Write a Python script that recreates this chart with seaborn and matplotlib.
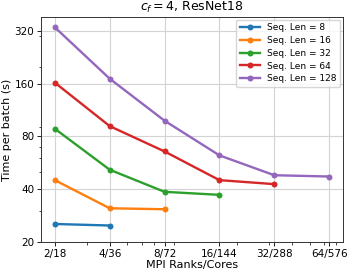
import matplotlib
matplotlib.use("Agg")
import matplotlib.pyplot as plt
import seaborn as sns
import pandas as pd

# MPI ranks on x, time per batch on y
ranks = [2, 4, 8, 16, 32, 64]
tick_labels = ["2/18", "4/36", "8/72", "16/144", "32/288", "64/576"]
seq_lens = [8, 16, 32, 64, 128]

time_seq8 = [25.3, 24.8]
time_seq16 = [45.0, 31.1, 30.7]
time_seq32 = [88.4, 51.6, 38.6, 37.1]
time_seq64 = [162.0, 91.5, 65.6, 45.0, 42.7]
time_seq128 = [335.0, 170.6, 98.2, 62.3, 48.0, 47.2]

yticks = [20, 40, 80, 160, 320]

#build long table for seaborn
rows = []
for n, times in zip(seq_lens, [time_seq8, time_seq16, time_seq32, time_seq64, time_seq128]):
    for r, t in zip(ranks, times):
        rows.append({"ranks": r, "time": t, "series": f"Seq. Len = {n}"})
df = pd.DataFrame(rows)
order = [f"Seq. Len = {n}" for n in seq_lens]

fig, ax = plt.subplots(figsize=(3.51, 2.73), dpi=100)
fig.subplots_adjust(left=0.117, right=0.977, top=0.938, bottom=0.114)

sns.lineplot(data=df, x="ranks", y="time", hue="series", hue_order=order,
             palette=sns.color_palette("tab10", 5), marker="o", markersize=4.3,
             markeredgewidth=0, linewidth=1.7, ax=ax)

ax.set_xscale("log")
ax.set_yscale("log")
ax.set_xlim(2 / 1.19, 64 * 1.19)
ax.set_ylim(20, 384)
ax.set_xticks(ranks)
ax.set_xticklabels(tick_labels)
ax.set_yticks(yticks)
ax.set_yticklabels([str(v) for v in yticks])
ax.tick_params(labelsize=7.5, length=3, width=0.6, pad=2)
ax.tick_params(which="minor", length=1.8, width=0.5)
ax.grid(True, which="major", color="#d3d3d3", linewidth=0.8)
ax.set_axisbelow(True)
for s in ax.spines.values():
    s.set_linewidth(0.7)
    s.set_color("#333333")

ax.set_xlabel("MPI Ranks/Cores", fontsize=8, labelpad=1)
ax.set_ylabel("Time per batch (s)", fontsize=8, labelpad=2)
ax.set_title("$c_f = 4$, ResNet18", fontsize=9, pad=4)
ax.legend(loc="upper right", fontsize=6.5, handlelength=2.2, borderpad=0.4,
          labelspacing=0.42, framealpha=0.8, borderaxespad=0.3)

fig.savefig("out.png", dpi=100)
